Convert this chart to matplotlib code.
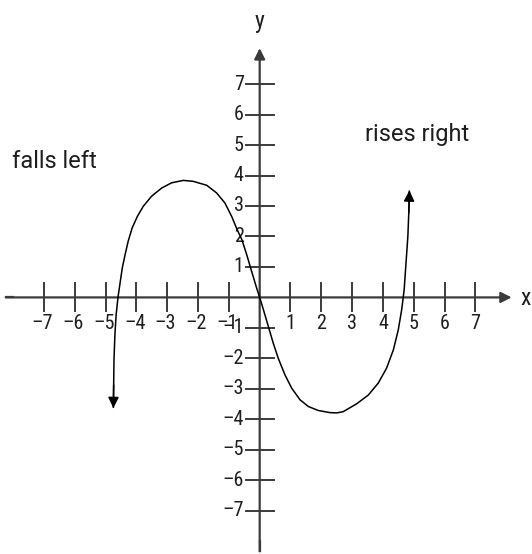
import matplotlib
matplotlib.use("Agg")
import matplotlib.pyplot as plt
from matplotlib import font_manager
from matplotlib.patches import FancyArrowPatch

# points (left arrow end -> right arrow end)
curve_x = [-4.75, -4.74, -4.73, -4.70, -4.66, -4.60, -4.54, -4.46, -4.37, -4.27,
           -4.14, -3.97, -3.78, -3.51, -3.18, -2.86, -2.48, -2.16, -1.72, -1.40,
           -1.13, -0.91, -0.73, -0.58, -0.42, -0.26, -0.10, 0.00, 0.12, 0.28,
           0.44, 0.60, 0.82, 1.04, 1.31, 1.58, 1.90, 2.28, 2.50, 2.71,
           3.15, 3.53, 3.85, 4.12, 4.34, 4.50, 4.61, 4.69, 4.75, 4.81,
           4.84, 4.86]
curve_y = [-3.63, -2.87, -2.05, -1.23, -0.57, 0.00, 0.42, 0.97, 1.40, 1.84,
           2.28, 2.66, 2.99, 3.32, 3.59, 3.76, 3.84, 3.81, 3.68, 3.43,
           3.10, 2.66, 2.22, 1.90, 1.40, 0.85, 0.31, 0.00, -0.40, -0.95,
           -1.50, -1.99, -2.54, -2.98, -3.36, -3.58, -3.71, -3.78, -3.79, -3.75,
           -3.49, -3.20, -2.81, -2.32, -1.72, -1.06, -0.40, 0.25, 1.13, 2.00,
           2.77, 3.51]

ticks = [-7, -6, -5, -4, -3, -2, -1, 1, 2, 3, 4, 5, 6, 7]

AXIS_COLOR = "#3b3b3b"
TEXT_COLOR = "#1e1e1e"


def pick_font(names, fallback="DejaVu Sans"):
    installed = {f.name for f in font_manager.fontManager.ttflist}
    for name in names:
        if name in installed:
            return name
    return fallback


NARROW = pick_font(["Roboto Condensed", "Archivo Narrow", "PT Sans Narrow",
                    "Pragati Narrow", "Barlow Condensed", "Liberation Sans"])
ROUND = pick_font(["Roboto", "Liberation Sans"])


def axis_arrow(ax, start, end):
    ax.add_patch(FancyArrowPatch(start, end, arrowstyle="-|>", mutation_scale=16,
                                 color=AXIS_COLOR, linewidth=1.6, shrinkA=0, shrinkB=0,
                                 zorder=2))


fig = plt.figure(figsize=(5.32, 5.54), dpi=100)
ax = fig.add_axes([0, 0, 1, 1])
ax.set_xlim(-8.43, 8.84)
ax.set_ylim(-8.42, 9.76)
ax.axis("off")

# axes with arrows
ax.plot([-8.24, -8.0], [0, 0], color=AXIS_COLOR, lw=1.6)
axis_arrow(ax, (-8.24, 0), (8.18, 0))
ax.plot([0, 0], [-8.33, -8.0], color=AXIS_COLOR, lw=1.6)
axis_arrow(ax, (0, -8.33), (0, 8.18))

for t in ticks:
    ax.plot([t, t], [-0.46, 0.46], color=AXIS_COLOR, lw=1.4, zorder=2)
    ax.plot([-0.46, 0.46], [t, t], color=AXIS_COLOR, lw=1.4, zorder=2)
    label = str(t).replace("-", "\u2013")
    ax.text(t - (0.06 if t < 0 else 0), -0.84, label, ha="center", va="center",
            fontsize=14.5, family=[NARROW, "DejaVu Sans"], color=TEXT_COLOR)
    ax.text(-0.52, t, label, ha="right", va="center", fontsize=14.5,
            family=[NARROW, "DejaVu Sans"], color=TEXT_COLOR)

ax.text(8.64, -0.02, "x", ha="center", va="center", fontsize=17,
        family=NARROW, color=TEXT_COLOR)
ax.text(-0.02, 9.05, "y", ha="center", va="center", fontsize=17,
        family=NARROW, color=TEXT_COLOR)

# curve with arrowheads at both ends
ax.plot(curve_x, curve_y, color="black", lw=1.1, zorder=3,
        solid_joinstyle="round", solid_capstyle="butt")
for i0, i1 in ((1, 0), (-2, -1)):
    ax.add_patch(FancyArrowPatch((curve_x[i0], curve_y[i0]), (curve_x[i1], curve_y[i1]),
                                 arrowstyle="-|>", mutation_scale=16, color="black",
                                 linewidth=1.1, shrinkA=0, shrinkB=0, zorder=3))

ax.text(-6.66, 4.45, "falls left", ha="center", va="center", fontsize=17,
        family=ROUND, color=TEXT_COLOR)
ax.text(5.10, 5.35, "rises right", ha="center", va="center", fontsize=17,
        family=ROUND, color=TEXT_COLOR)

fig.savefig("out.png", dpi=100)
